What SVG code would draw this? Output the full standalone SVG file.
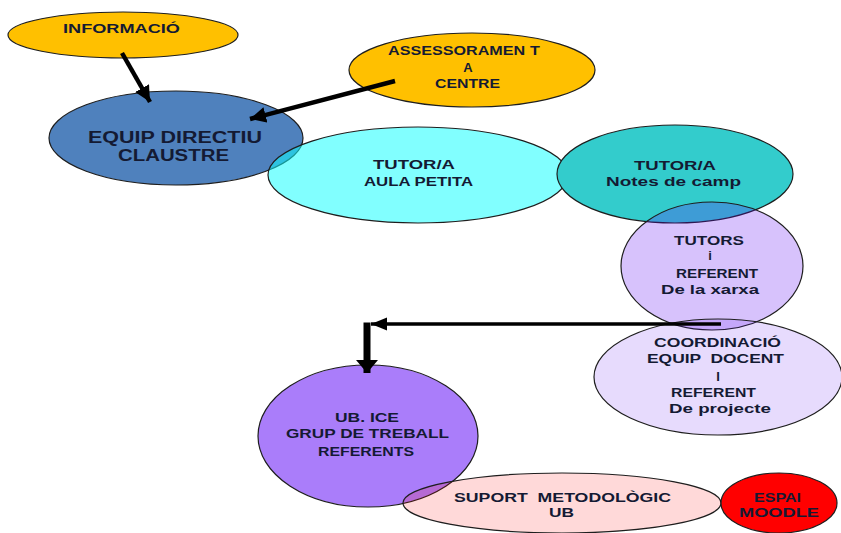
<svg xmlns="http://www.w3.org/2000/svg" width="841" height="533" viewBox="0 0 841 533" xml:space="preserve">
<defs>
<style>
.n{stroke:#1e1e1e;stroke-width:1.2}
.t{font-family:"Liberation Sans",Arial,sans-serif;font-weight:bold;font-size:13px;fill:#141a33;text-anchor:middle;white-space:pre}
.big{font-size:16px}
.c{stroke:#000;fill:none}
</style>
<marker id="ah" markerUnits="userSpaceOnUse" markerWidth="20" markerHeight="20" refX="16" refY="8" orient="auto"><path d="M0,0 L16,8 L0,16 Z" fill="#000"/></marker>
<marker id="ahs" markerUnits="userSpaceOnUse" markerWidth="20" markerHeight="16" refX="16" refY="6.5" orient="auto"><path d="M0,0 L16,6.5 L0,13 Z" fill="#000"/></marker>
<marker id="ahv" markerUnits="userSpaceOnUse" markerWidth="16" markerHeight="24" refX="13" refY="11" orient="auto"><path d="M0,0 L13,11 L0,22 Z" fill="#000"/></marker>
</defs>
<rect width="841" height="533" fill="#fff"/>
<g id="equip-directiu">
<ellipse class="n" cx="176" cy="138" rx="127" ry="47" fill="#4f81bd"/>
<text class="t big" x="175" y="143" textLength="174" lengthAdjust="spacingAndGlyphs">EQUIP DIRECTIU</text>
<text class="t big" x="173.5" y="161" textLength="111" lengthAdjust="spacingAndGlyphs">CLAUSTRE</text>
</g>
<g id="informacio">
<ellipse class="n" cx="123" cy="35" rx="115" ry="23" fill="#ffc000"/>
<text class="t" x="121.5" y="33" textLength="117" lengthAdjust="spacingAndGlyphs">INFORMACIÓ</text>
</g>
<g id="assessorament">
<ellipse class="n" cx="472" cy="70" rx="123" ry="37" fill="#ffc000"/>
<text class="t" x="464" y="55" textLength="152" lengthAdjust="spacingAndGlyphs">ASSESSORAMEN<tspan dx="4">T</tspan></text>
<text class="t" x="468" y="72">A</text>
<text class="t" x="467.5" y="88" textLength="65" lengthAdjust="spacingAndGlyphs">CENTRE</text>
</g>
<g id="tutor-aula-petita">
<ellipse class="n" cx="418" cy="175" rx="150" ry="48" fill="rgb(17,255,255)" fill-opacity="0.53"/>
<text class="t" x="414" y="169" textLength="82" lengthAdjust="spacingAndGlyphs">TUTOR/A</text>
<text class="t" x="418.5" y="186" textLength="109" lengthAdjust="spacingAndGlyphs">AULA PETITA</text>
</g>
<g id="tutor-notes-camp">
<ellipse class="n" cx="675" cy="174" rx="118" ry="49" fill="#33cccc"/>
<text class="t" x="675" y="170" textLength="82" lengthAdjust="spacingAndGlyphs">TUTOR/A</text>
<text class="t" x="673.5" y="186" textLength="135" lengthAdjust="spacingAndGlyphs">Notes de camp</text>
</g>
<g id="tutors-referent-xarxa">
<ellipse class="n" cx="712" cy="266" rx="91" ry="64" fill="rgb(95,11,243)" fill-opacity="0.25"/>
<text class="t" x="709" y="245" textLength="70" lengthAdjust="spacingAndGlyphs">TUTORS</text>
<text class="t" x="710" y="260">i</text>
<text class="t" x="717" y="278" textLength="82" lengthAdjust="spacingAndGlyphs">REFERENT</text>
<text class="t" x="710" y="294" textLength="98" lengthAdjust="spacingAndGlyphs">De la xarxa</text>
</g>
<g id="coordinacio">
<ellipse class="n" cx="718" cy="377" rx="124" ry="58" fill="rgb(95,11,243)" fill-opacity="0.15"/>
<text class="t" x="717.5" y="347" textLength="127" lengthAdjust="spacingAndGlyphs">COORDINACIÓ</text>
<text class="t" x="715.5" y="363" textLength="137" lengthAdjust="spacingAndGlyphs">EQUIP  DOCENT</text>
<text class="t" x="718" y="381">I</text>
<text class="t" x="713.5" y="397" textLength="85" lengthAdjust="spacingAndGlyphs">REFERENT</text>
<text class="t" x="720" y="413" textLength="102" lengthAdjust="spacingAndGlyphs">De projecte</text>
</g>
<g id="ub-ice">
<ellipse class="n" cx="368" cy="436" rx="110" ry="71" fill="#aa7dfa"/>
<text class="t" x="367" y="422" textLength="64" lengthAdjust="spacingAndGlyphs">UB. ICE</text>
<text class="t" x="367.5" y="438" textLength="163" lengthAdjust="spacingAndGlyphs">GRUP DE TREBALL</text>
<text class="t" x="366" y="456" textLength="96" lengthAdjust="spacingAndGlyphs">REFERENTS</text>
</g>
<g id="suport-metodologic">
<ellipse class="n" cx="562" cy="503" rx="159" ry="30" fill="rgb(255,0,0)" fill-opacity="0.15"/>
<text class="t" x="562.5" y="502" textLength="217" lengthAdjust="spacingAndGlyphs">SUPORT  METODOLÒGIC</text>
<text class="t" x="561.5" y="517" textLength="25" lengthAdjust="spacingAndGlyphs">UB</text>
</g>
<g id="espai-moodle">
<ellipse class="n" cx="779" cy="503" rx="58" ry="30" fill="#ff0000"/>
<text class="t" x="777.5" y="502" textLength="47" lengthAdjust="spacingAndGlyphs">ESPAI</text>
<text class="t" x="779" y="517" textLength="80" lengthAdjust="spacingAndGlyphs">MOODLE</text>
</g>
<g id="connectors">
<line class="c" x1="122" y1="53" x2="150" y2="102" stroke-width="4.5" marker-end="url(#ah)"/>
<line class="c" x1="395" y1="81" x2="250" y2="119" stroke-width="4.5" marker-end="url(#ah)"/>
<line class="c" x1="721" y1="324" x2="371" y2="324" stroke-width="3.5" marker-end="url(#ahs)"/>
<line class="c" x1="367" y1="322.5" x2="367" y2="373" stroke-width="7" marker-end="url(#ahv)"/>
</g>
</svg>
